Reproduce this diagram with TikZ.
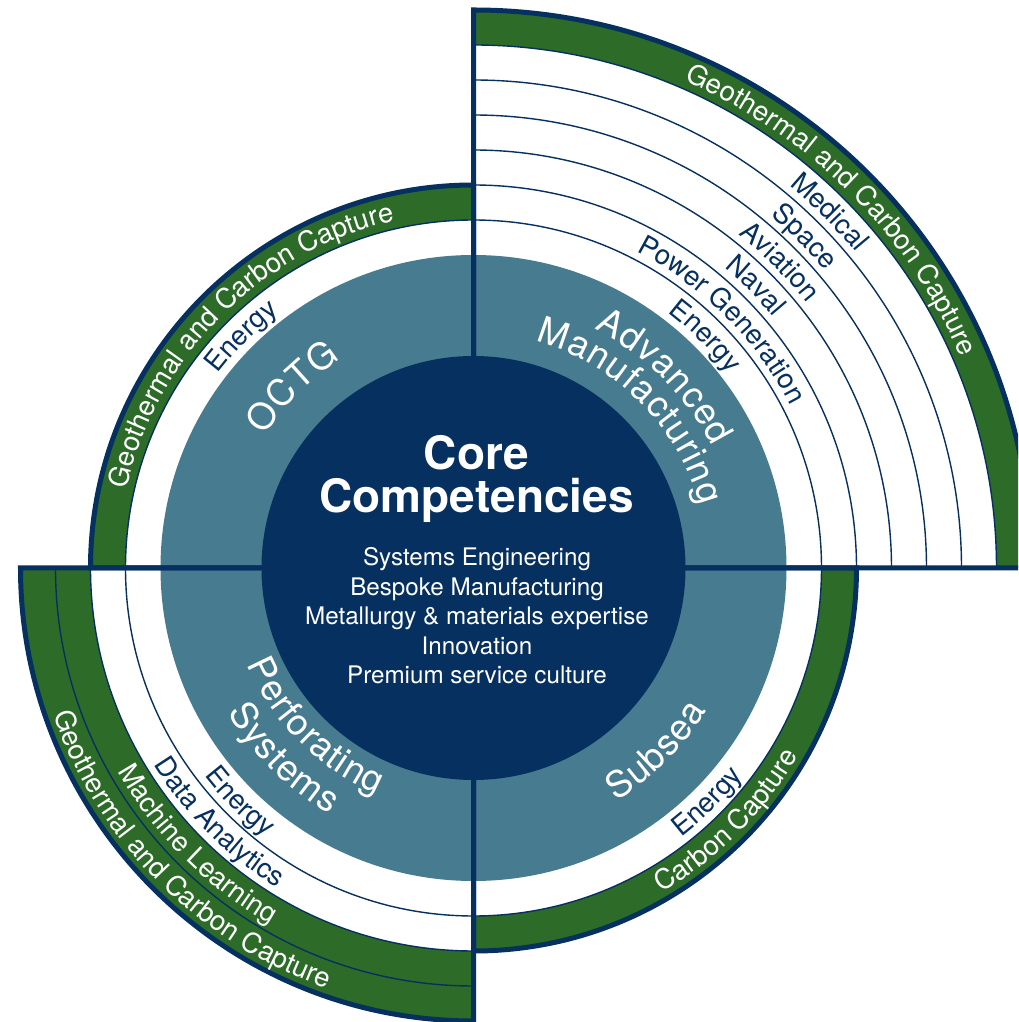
\documentclass[tikz,border=0pt]{standalone}
\usepackage{fontspec}
\setmainfont{TeX Gyre Heros}
\usetikzlibrary{decorations.text}
\definecolor{navy}{HTML}{06305F}
\definecolor{petrol}{HTML}{477B8F}
\definecolor{leaf}{HTML}{2D6B29}
\newcommand{\ringfont}{\fontsize{27.5}{27.5}\selectfont}
\newcommand{\segfont}{\fontsize{36.5}{36.5}\selectfont}
\newcommand{\trk}{\kern1pt}
% text set along an arc, centred between the two angles
\newcommand{\arctext}[6]{%
  \path[decorate,decoration={text along path,text align=center,text color=#1,
    text={|#2|#6}}] (#3:#5pt) arc (#3:#4:#5pt);}

\begin{document}
\begin{tikzpicture}[x=1pt,y=1pt,
  border/.style={draw=navy,line width=5pt},
  ringline/.style={draw=navy,line width=1.4pt}]
\clip (-473.5,-454) rectangle (544.5,568);

% quadrants: start angle / white rings / green rings
\foreach \ang/\nw/\ng in {90/1/1,0/6/1,-90/1/1,180/2/2}{
  \pgfmathsetmacro\rw{313+35*\nw}
  \pgfmathsetmacro\ro{313+35*(\nw+\ng)}
  \fill[leaf] (0,0) -- (\ang:\ro pt) arc (\ang:\ang+90:\ro pt) -- cycle;
  \fill[white] (0,0) -- (\ang:\rw pt) arc (\ang:\ang+90:\rw pt) -- cycle;
}
\fill[petrol] (0,0) circle (313pt);
\fill[navy] (0,0) circle (212pt);

\foreach \ang/\nw/\ng in {90/1/1,0/6/1,-90/1/1,180/2/2}{
  \pgfmathtruncatemacro\nl{\nw+\ng-1}
  \pgfmathsetmacro\ro{313+35*(\nw+\ng)}
  \foreach \k in {1,...,\nl}{
    \pgfmathsetmacro\rr{313+35*\k}
    \draw[ringline] (\ang:\rr pt) arc (\ang:\ang+90:\rr pt);
  }
  \draw[border] (0,0) -- (\ang:\ro pt) arc (\ang:\ang+90:\ro pt) -- cycle;
}

% OCTG
\arctext{white}{\segfont}{180}{90}{247}{O{\trk}C{\trk}T{\trk}G}
\arctext{navy}{\ringfont}{180}{90}{321}{Energy}
\arctext{white}{\ringfont}{180}{90}{356}{Geothermal and Carbon Capture}
% Advanced Manufacturing
\arctext{white}{\segfont}{90}{0}{268}{A{\trk}d{\trk}v{\trk}a{\trk}n{\trk}c{\trk}e{\trk}d}
\arctext{white}{\segfont}{90}{0}{235}{M{\trk}a{\trk}n{\trk}u{\trk}f{\trk}a{\trk}c{\trk}t{\trk}u{\trk}r{\trk}i{\trk}n{\trk}g}
\arctext{navy}{\ringfont}{90}{0}{321}{Energy}
\arctext{navy}{\ringfont}{90}{0}{356}{Power Generation}
\arctext{navy}{\ringfont}{90}{0}{391}{Naval}
\arctext{navy}{\ringfont}{90}{0}{426}{Aviation}
\arctext{navy}{\ringfont}{90}{0}{461}{Space}
\arctext{navy}{\ringfont}{90}{0}{496}{Medical}
\arctext{white}{\ringfont}{90}{0}{531}{Geothermal and Carbon Capture}
% Subsea
\arctext{white}{\segfont}{-90}{0}{273}{S{\trk}u{\trk}b{\trk}s{\trk}e{\trk}a}
\arctext{navy}{\ringfont}{-90}{0}{340}{Energy}
\arctext{white}{\ringfont}{-90}{0}{375}{Carbon Capture}
% Perforating Systems
\arctext{white}{\segfont}{180}{270}{246}{P{\trk}e{\trk}r{\trk}f{\trk}o{\trk}r{\trk}a{\trk}t{\trk}i{\trk}n{\trk}g}
\arctext{white}{\segfont}{180}{270}{285}{S{\trk}y{\trk}s{\trk}t{\trk}e{\trk}m{\trk}s}
\arctext{navy}{\ringfont}{180}{270}{340}{Energy}
\arctext{navy}{\ringfont}{180}{270}{375}{Data Analytics}
\arctext{white}{\ringfont}{180}{270}{410}{Machine Learning}
\arctext{white}{\ringfont}{180}{270}{445}{Geothermal and Carbon Capture}

\node[text=white,font=\bfseries\fontsize{46}{43}\selectfont,align=center] (core) at (3,89) {Core\\Competencies};
\node[text=white,font=\fontsize{24.2}{29.5}\selectfont,align=center] (skills) at (3.5,-48)
  {Systems Engineering\\Bespoke Manufacturing\\Metallurgy \& materials expertise\\Innovation\\Premium service culture};
\end{tikzpicture}
\end{document}
